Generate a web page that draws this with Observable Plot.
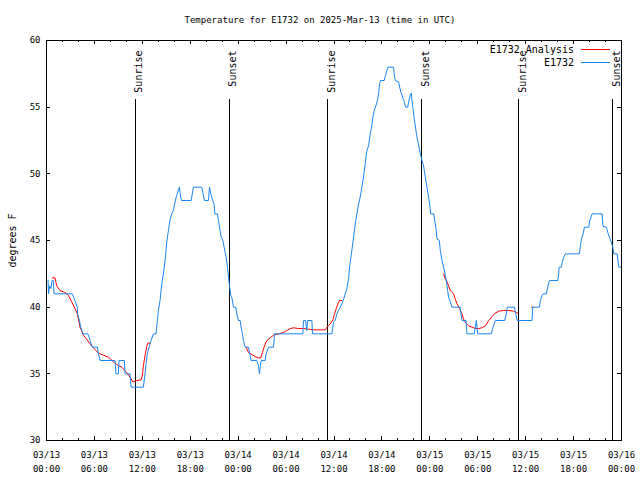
<!DOCTYPE html>
<html><head><meta charset="utf-8">
<script src="https://cdn.jsdelivr.net/npm/d3@7"></script>
<script src="https://cdn.jsdelivr.net/npm/@observablehq/plot@0.6"></script>
<style>
html,body{margin:0;padding:0;background:#fff;}
#wrap{position:relative;width:640px;height:480px;font-family:"DejaVu Sans Mono",monospace;font-size:9px;color:#000;}
#title{position:absolute;top:14px;left:0;width:640px;text-align:center;line-height:12px;white-space:pre;}
.lt{position:absolute;right:66px;line-height:12px;white-space:pre;font-size:10px;}
.ll{position:absolute;left:581px;width:29px;height:0;}
</style></head>
<body><div id="wrap"><div id="chart"></div>
<div id="title"></div>
<div class="lt" id="lt1" style="top:44px"></div><div class="ll" id="ll1" style="top:49px"></div>
<div class="lt" id="lt2" style="top:57px"></div><div class="ll" id="ll2" style="top:62px"></div>
</div>
<script>
// ---- data (hours since 2025-03-13 00:00 UTC, degrees F) ----
const titleText = "Temperature for E1732 on 2025-Mar-13 (time in UTC)";
const seriesNames = ["E1732 Analysis", "E1732"];
const seriesColors = ["#ff0000", "#1a86f0"];
const yLabel = "degrees F";
const xTickHours = [0, 6, 12, 18, 24, 30, 36, 42, 48, 54, 60, 66, 72];
const xTickLabels = ["03/13\n00:00","03/13\n06:00","03/13\n12:00","03/13\n18:00","03/14\n00:00","03/14\n06:00","03/14\n12:00","03/14\n18:00","03/15\n00:00","03/15\n06:00","03/15\n12:00","03/15\n18:00","03/16\n00:00"];
const xMinorHours = d3.range(0, 73, 2);
const yTicks = [30, 35, 40, 45, 50, 55, 60];
const sunHours = [11.13, 22.9, 35.19, 46.97, 59.12, 70.9];
const sunLabels = ["Sunrise", "Sunset", "Sunrise", "Sunset", "Sunrise", "Sunset"];

const observed = [
[0.2,42],[0.25,41],[0.4,41.6],[0.55,41.4],[0.7,42],[0.85,42],[0.95,41],[3.24,41],[3.49,40.6],[3.7,40.25],[3.86,40],[3.9,39.5],[4.12,39],[4.29,38.5],[4.53,38],[5.16,38],[5.33,37.75],[5.45,37.5],[5.74,37],[6.37,37],[6.5,36.5],[6.73,36],[8.58,36],[8.7,35],[9.0,35],[9.08,36],[9.75,36],[9.83,35],[10.46,35],[10.59,34],[12.13,34],[12.34,35],[12.46,35.75],[12.63,36.5],[12.84,37],[13.09,37.5],[13.39,38],[13.72,38],[13.8,38.5],[13.89,39],[14.01,39.75],[14.22,40.5],[14.43,41.75],[14.64,42.5],[14.85,43.5],[15.06,44.9],[15.27,45.75],[15.48,46.6],[15.69,47],[15.89,47.25],[16.1,47.9],[16.31,48.4],[16.52,48.8],[16.64,49],[16.72,48.6],[16.89,48],[18.11,48],[18.4,49],[19.44,49],[19.78,48],[20.28,48],[20.41,49],[20.57,48.5],[20.82,48],[20.99,47.7],[21.07,47],[21.41,47],[21.53,46.5],[21.74,45.75],[21.87,45.25],[22.08,45],[22.24,44.5],[22.49,43.75],[22.66,43],[22.79,42.25],[22.91,41.6],[23.08,40.9],[23.2,40.75],[23.41,40],[23.7,40],[23.83,39.5],[24.03,39],[24.25,39],[24.37,38.5],[24.54,38],[24.66,37.5],[24.87,37],[25.29,37],[25.42,36.6],[25.62,36],[26.33,36],[26.54,35.6],[26.67,35],[26.75,35.5],[26.88,36],[27.38,36],[27.46,36.4],[27.8,37],[28.43,37],[28.55,38],[32.1,38],[32.18,39],[32.43,39],[32.6,38.25],[32.68,39],[33.23,39],[33.31,38],[35.73,38],[35.94,38.9],[36.15,39],[36.36,39.5],[36.57,39.75],[36.78,40],[36.99,40.25],[37.2,40.6],[37.41,41],[37.61,41.4],[37.82,42.1],[37.95,43],[38.12,43.75],[38.29,44.5],[38.45,45.25],[38.66,46.25],[38.87,47],[39.08,47.75],[39.28,48.25],[39.49,49],[39.7,49.75],[39.91,50.75],[40.12,51.75],[40.33,52.1],[40.53,53],[40.74,53.6],[40.87,54.25],[41.04,54.75],[41.24,55.1],[41.45,55.5],[41.58,56],[41.71,56.75],[41.83,57],[42.29,57],[42.46,57.4],[42.63,57.75],[42.75,58],[43.46,58],[43.55,57.4],[43.67,57],[44.09,56.9],[44.22,56.5],[44.39,56.1],[44.59,55.75],[44.8,55.4],[44.97,55],[45.22,55],[45.39,55.5],[45.55,55.9],[45.68,56.05],[45.76,55.5],[45.89,54.9],[46.06,54.1],[46.22,53.4],[46.39,52.75],[46.64,52],[46.81,51.5],[47.01,51],[47.22,50.6],[47.43,49.75],[47.64,49],[47.85,48.25],[48.0,47.6],[48.1,47],[48.5,47],[48.64,46.4],[48.8,45.75],[48.9,45.1],[49.19,45],[49.31,44.25],[49.52,43.5],[49.73,43],[49.94,42.4],[50.06,42],[50.23,41.25],[50.35,40.75],[50.56,40.4],[50.77,40],[51.8,40],[52.02,39],[52.52,39],[52.65,38],[53.57,38],[53.82,39],[53.99,38],[55.7,38],[55.91,38.5],[56.2,39],[57.37,39],[57.58,39.5],[57.7,40],[58.6,40],[58.75,39.5],[58.95,39],[60.8,39],[60.88,40],[61.72,40],[61.84,40.5],[62.05,40.9],[62.18,41],[62.59,41],[62.76,41.5],[62.97,42],[64.02,42],[64.14,42.5],[64.18,43],[64.47,43],[64.6,43.4],[64.77,43.75],[64.98,44],[66.73,44],[66.85,44.6],[66.98,45.1],[67.19,45.5],[67.36,46],[67.9,46],[68.03,46.5],[68.32,47],[69.57,47],[69.69,46.05],[70.11,46],[70.28,45.6],[70.49,45.25],[70.7,44.9],[70.91,44.5],[71.03,44],[71.45,44],[71.66,43],[72,43]
];
const analysis1 = [[0.73,42.2],[1.07,42.2],[1.27,41.6],[1.69,41.25],[2.32,41.1],[2.74,40.9],[3.15,40.4],[3.57,39.9],[3.86,39.5],[4.2,38.5],[4.62,37.9],[5.03,37.6],[5.45,37.25],[5.87,36.95],[6.5,36.55],[7.12,36.4],[7.75,36.25],[8.37,35.9],[8.79,35.7],[9.42,35.5],[10.04,35.1],[10.46,34.75],[10.8,34.4],[11.3,34.5],[11.84,34.55],[12.01,34.9],[12.13,35.6],[12.34,36.4],[12.55,37.05],[12.68,37.3],[12.97,37.3]];
const analysis2 = [[25.0,37],[25.29,36.6],[25.71,36.45],[26.12,36.3],[26.54,36.2],[26.83,36.2],[27.04,36.6],[27.29,37.1],[27.59,37.5],[28.01,37.7],[28.43,37.9],[29.05,38],[29.68,38.1],[30.1,38.25],[30.52,38.4],[30.93,38.45],[31.56,38.4],[32.18,38.4],[32.81,38.35],[33.44,38.3],[34.28,38.3],[34.9,38.3],[35.11,38.5],[35.53,38.75],[35.86,39.05],[36.07,39.5],[36.28,39.9],[36.49,40.25],[36.7,40.5],[36.99,40.5]];
const analysis3 = [[49.73,42.5],[49.94,42.1],[50.15,41.9],[50.35,41.6],[50.56,41.25],[50.77,41.1],[50.98,41],[51.19,40.6],[51.4,40.25],[51.73,39.9],[52.02,39.5],[52.23,39.1],[52.52,38.8],[52.86,38.6],[53.28,38.5],[53.7,38.4],[54.11,38.4],[54.53,38.45],[54.95,38.6],[55.37,39],[55.79,39.3],[56.2,39.55],[56.62,39.7],[57.25,39.75],[57.88,39.75],[58.5,39.7],[58.8,39.6],[59.0,39.55]];
const analysis4 = [[60.75,40],[60.9,40]];

// ---- build ----
const obsRows = observed.map(([h, t]) => ({h, t}));
const anaRows = [analysis1, analysis2, analysis3, analysis4].flatMap((s, k) => s.map(([h, t]) => ({h, t, seg: k})));
const sunRows = sunHours.map((h, i) => ({h, label: sunLabels[i]}));

const W = 640, H = 480, mL = 46, mR = 19, mT = 40, mB = 40;
const pw = W - mL - mR, ph = H - mT - mB;
const crisp = {stroke: "black", shapeRendering: "crispEdges"};

const chart = Plot.plot({
  width: W, height: H,
  marginLeft: mL, marginRight: mR, marginTop: mT, marginBottom: mB,
  style: {fontFamily: "DejaVu Sans Mono, monospace", fontSize: "9px", background: "white", color: "black"},
  x: {type: "linear", domain: [0, 72]},
  y: {domain: [30, 60]},
  marks: [
    Plot.ruleX(sunRows, {x: "h", insetTop: 59, ...crisp}),
    Plot.text(sunRows, {x: "h", text: "label", frameAnchor: "top", dy: 10, rotate: -90, textAnchor: "end", fontSize: 10, fill: "black"}),
    Plot.line(anaRows, {x: "h", y: "t", z: "seg", stroke: seriesColors[0], strokeWidth: 1}),
    Plot.line(obsRows, {x: "h", y: "t", stroke: seriesColors[1], strokeWidth: 1}),
    Plot.tickX(xMinorHours, {x: d => d, insetTop: ph - 2, ...crisp}),
    Plot.tickX(xMinorHours, {x: d => d, insetBottom: ph - 2, ...crisp}),
    Plot.tickX(xTickHours, {x: d => d, insetTop: ph - 4, ...crisp}),
    Plot.tickX(xTickHours, {x: d => d, insetBottom: ph - 4, ...crisp}),
    Plot.tickY(yTicks, {y: d => d, insetRight: pw - 4, ...crisp}),
    Plot.tickY(yTicks, {y: d => d, insetLeft: pw - 4, ...crisp}),
    Plot.frame(crisp),
    Plot.axisX(xTickHours, {tickSize: 0, tickPadding: 8, lineHeight: 1.5, fontSize: 9,
      tickFormat: d => xTickLabels[xTickHours.indexOf(d)], label: null}),
    Plot.axisY(yTicks, {tickSize: 0, tickPadding: 6, fontSize: 9, tickFormat: d => String(d),
      label: null}),
    Plot.axisY({tickSize: 0, ticks: [], label: yLabel, labelAnchor: "center", labelOffset: 38, labelArrow: "none", fontSize: 10})
  ]
});
document.getElementById("chart").appendChild(chart);
document.getElementById("title").textContent = titleText;
document.getElementById("lt1").textContent = seriesNames[0];
document.getElementById("lt2").textContent = seriesNames[1];
document.getElementById("ll1").style.borderTop = "1px solid " + seriesColors[0];
document.getElementById("ll2").style.borderTop = "1px solid " + seriesColors[1];
</script>
</body></html>
